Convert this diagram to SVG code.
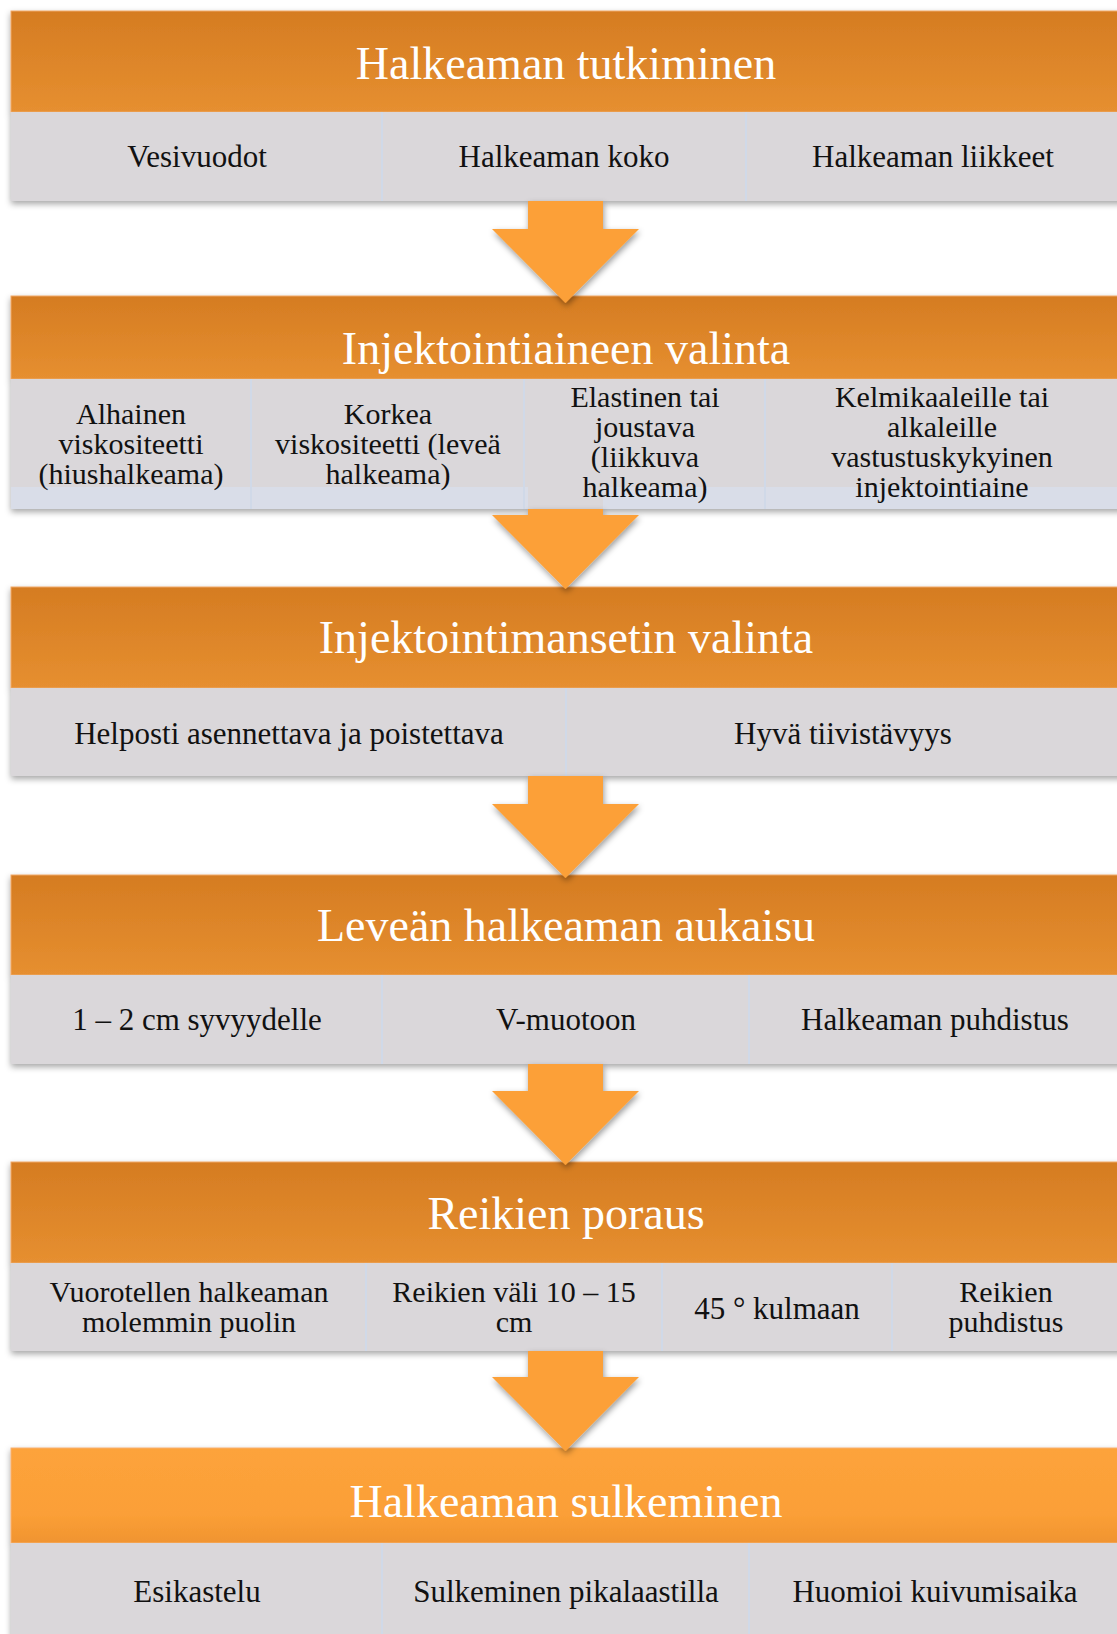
<svg xmlns="http://www.w3.org/2000/svg" width="1117" height="1634" viewBox="0 0 1117 1634">
<defs>
<linearGradient id="hdr" x1="0" y1="0" x2="0" y2="1">
<stop offset="0" stop-color="#d57c22"/>
<stop offset="1" stop-color="#e68f30"/>
</linearGradient>
<linearGradient id="hdr6" x1="0" y1="0" x2="0" y2="1">
<stop offset="0" stop-color="#fda33b"/>
<stop offset="0.7" stop-color="#fb9f37"/>
<stop offset="1" stop-color="#f09430"/>
</linearGradient>
<filter id="sh" x="-5%" y="-10%" width="110%" height="130%">
<feDropShadow dx="0" dy="3" stdDeviation="3" flood-color="#000" flood-opacity="0.35"/>
</filter>
<filter id="ash" x="-20%" y="-20%" width="140%" height="150%">
<feDropShadow dx="1" dy="3" stdDeviation="3" flood-color="#000" flood-opacity="0.4"/>
</filter>
</defs>
<style>
.hdr{fill:url(#hdr);stroke:#efa867;stroke-width:1}
.hdr6{fill:url(#hdr6);stroke:#f7b070;stroke-width:1}
.cell{fill:#dad7da}
.strip{fill:#d9dde8}
.div{stroke:#d0d9e8;stroke-width:2}
.title{font-family:"Liberation Serif",serif;font-size:46px;fill:#ffffff;text-anchor:middle}
.txt{font-family:"Liberation Serif",serif;font-size:31px;fill:#111111;text-anchor:middle}
.ml{font-size:30px}
.arrow{fill:#fca039}
</style>
<rect width="1117" height="1634" fill="#ffffff"/>

<g id="block1">
<g filter="url(#sh)">
<rect class="hdr" x="11" y="11" width="1130" height="101"/>
<rect class="cell" x="11" y="112" width="1130" height="89"/>
</g>
<line class="div" x1="382" y1="112" x2="382" y2="201"/>
<line class="div" x1="746" y1="112" x2="746" y2="201"/>
<text class="title" x="566" y="79">Halkeaman tutkiminen</text>
<text class="txt" x="197" y="167">Vesivuodot</text>
<text class="txt" x="564" y="167">Halkeaman koko</text>
<text class="txt" x="933" y="167">Halkeaman liikkeet</text>
</g>

<g id="block2">
<g filter="url(#sh)">
<rect class="hdr" x="11" y="296" width="1130" height="83"/>
<rect class="cell" x="11" y="379" width="1130" height="108"/>
<rect class="strip" x="11" y="487" width="1130" height="22"/>
</g>
<rect class="cell" x="528" y="487" width="75" height="22"/>
<line class="div" x1="251" y1="379" x2="251" y2="509"/>
<line class="div" x1="524" y1="379" x2="524" y2="509"/>
<line class="div" x1="765" y1="379" x2="765" y2="509"/>
<text class="title" x="566" y="364">Injektointiaineen valinta</text>
<text class="txt ml" y="424"><tspan x="131">Alhainen</tspan><tspan x="131" dy="30">viskositeetti</tspan><tspan x="131" dy="30">(hiushalkeama)</tspan></text>
<text class="txt ml" y="424"><tspan x="388">Korkea</tspan><tspan x="388" dy="30">viskositeetti (leveä</tspan><tspan x="388" dy="30">halkeama)</tspan></text>
<text class="txt ml" y="407"><tspan x="645">Elastinen tai</tspan><tspan x="645" dy="30">joustava</tspan><tspan x="645" dy="30">(liikkuva</tspan><tspan x="645" dy="30">halkeama)</tspan></text>
<text class="txt ml" y="407"><tspan x="942">Kelmikaaleille tai</tspan><tspan x="942" dy="30">alkaleille</tspan><tspan x="942" dy="30">vastustuskykyinen</tspan><tspan x="942" dy="30">injektointiaine</tspan></text>
</g>

<g id="block3">
<g filter="url(#sh)">
<rect class="hdr" x="11" y="587" width="1130" height="101"/>
<rect class="cell" x="11" y="688" width="1130" height="88"/>
</g>
<line class="div" x1="566" y1="688" x2="566" y2="776"/>
<text class="title" x="566" y="653">Injektointimansetin valinta</text>
<text class="txt" x="289" y="744">Helposti asennettava ja poistettava</text>
<text class="txt" x="843" y="744">Hyvä tiivistävyys</text>
</g>

<g id="block4">
<g filter="url(#sh)">
<rect class="hdr" x="11" y="875" width="1130" height="100"/>
<rect class="cell" x="11" y="975" width="1130" height="89"/>
</g>
<line class="div" x1="382" y1="975" x2="382" y2="1064"/>
<line class="div" x1="749" y1="975" x2="749" y2="1064"/>
<text class="title" x="566" y="941">Leveän halkeaman aukaisu</text>
<text class="txt" x="197" y="1030">1 – 2 cm syvyydelle</text>
<text class="txt" x="566" y="1030">V-muotoon</text>
<text class="txt" x="935" y="1030">Halkeaman puhdistus</text>
</g>

<g id="block5">
<g filter="url(#sh)">
<rect class="hdr" x="11" y="1162" width="1130" height="101"/>
<rect class="cell" x="11" y="1263" width="1130" height="88"/>
</g>
<line class="div" x1="366" y1="1263" x2="366" y2="1351"/>
<line class="div" x1="662" y1="1263" x2="662" y2="1351"/>
<line class="div" x1="892" y1="1263" x2="892" y2="1351"/>
<text class="title" x="566" y="1229">Reikien poraus</text>
<text class="txt ml" y="1302"><tspan x="189">Vuorotellen halkeaman</tspan><tspan x="189" dy="30">molemmin puolin</tspan></text>
<text class="txt ml" y="1302"><tspan x="514">Reikien väli 10 – 15</tspan><tspan x="514" dy="30">cm</tspan></text>
<text class="txt" x="777" y="1319">45 ° kulmaan</text>
<text class="txt ml" y="1302"><tspan x="1006">Reikien</tspan><tspan x="1006" dy="30">puhdistus</tspan></text>
</g>

<g id="block6">
<g filter="url(#sh)">
<rect class="hdr6" x="11" y="1448" width="1130" height="95"/>
<rect class="cell" x="11" y="1543" width="1130" height="100"/>
</g>
<line class="div" x1="382" y1="1543" x2="382" y2="1640"/>
<line class="div" x1="749" y1="1543" x2="749" y2="1640"/>
<text class="title" x="566" y="1517">Halkeaman sulkeminen</text>
<text class="txt" x="197" y="1602">Esikastelu</text>
<text class="txt" x="566" y="1602">Sulkeminen pikalaastilla</text>
<text class="txt" x="935" y="1602">Huomioi kuivumisaika</text>
</g>

<g id="connectors" filter="url(#ash)">
<path class="arrow" d="M528 201 H603 V229 H639 L565.5 303 L492 229 H528 Z"/>
<path class="arrow" d="M528 509 H603 V515 H639 L565.5 589 L492 515 H528 Z"/>
<path class="arrow" d="M528 776 H603 V804 H639 L565.5 878 L492 804 H528 Z"/>
<path class="arrow" d="M528 1064 H603 V1091 H639 L565.5 1165 L492 1091 H528 Z"/>
<path class="arrow" d="M528 1351 H603 V1377 H639 L565.5 1451 L492 1377 H528 Z"/>
</g>
</svg>
